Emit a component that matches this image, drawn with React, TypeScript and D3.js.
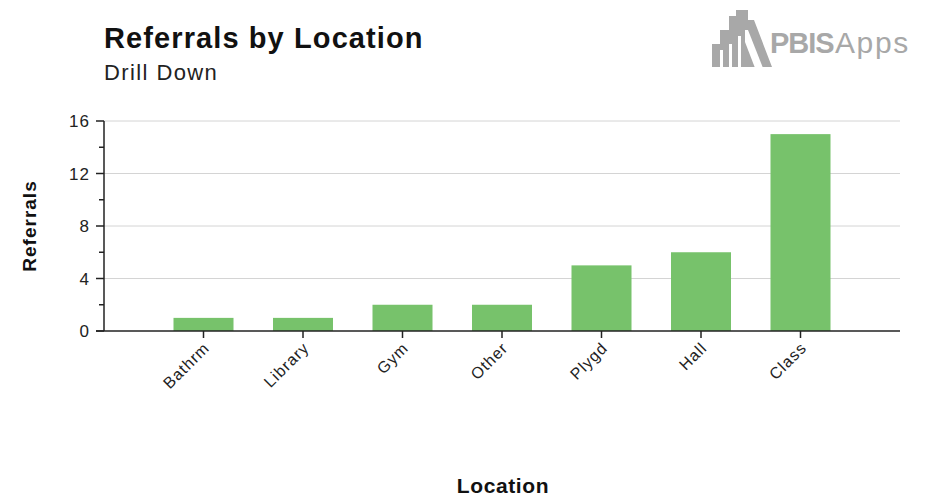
import * as d3 from "d3";

// ── Data ──────────────────────────────────────────────────────────────────────

const locations = ["Bathrm", "Library", "Gym", "Other", "Plygd", "Hall", "Class"];
const referrals = [1, 1, 2, 2, 5, 6, 15];
const majorTicks = [0, 4, 8, 12, 16];
const minorTicks = [2, 6, 10, 14];

// ── Layout ────────────────────────────────────────────────────────────────────

const W = 934;
const H = 497;
const PLOT = { left: 104, right: 900, top: 121, bottom: 331 };
const BAR_W = 60;
const FONT = "'Liberation Sans', Arial, Helvetica, sans-serif";
const BAR_COLOR = "#77c26b";
const LOGO_GRAY = "#a8a8a8";

export default function App() {
  const x = d3.scalePoint<string>().domain(locations).range([PLOT.left, PLOT.right]).padding(1);
  const y = d3.scaleLinear().domain([0, 16]).range([PLOT.bottom, PLOT.top]);

  return (
    <svg
      width={W}
      height={H}
      style={{ position: "fixed", left: 0, top: 0, background: "#fff" }}
      fontFamily={FONT}
    >
      {/* Title */}
      <text x={104} y={48} fontSize={29} fontWeight="bold" letterSpacing={1.1} fill="#111">
        Referrals by Location
      </text>
      <text x={104} y={80} fontSize={22} letterSpacing={1.4} fill="#222">
        Drill Down
      </text>

      {/* Logo */}
      <g fill={LOGO_GRAY}>
        <path d="M712,67 L712,44 L720,44 L720,30 L729,30 L729,16 L736,16 L736,10 L748,10 L748,20 L754,20 L772,67 Z" />
        <g fill="#fff">
          <rect x={720} y={50} width={3} height={18} />
          <rect x={729} y={44} width={3} height={24} />
          <rect x={738} y={36} width={3} height={32} />
          <path d="M745,30 L748,30 L763,68 L755,68 L745,42 Z" />
        </g>
        <text x={770} y={53} fontSize={29} fontWeight="bold" letterSpacing={-1}>
          PBIS
        </text>
        <text x={835} y={53} fontSize={30} letterSpacing={1.6}>
          Apps
        </text>
      </g>

      {/* Grid */}
      {majorTicks
        .filter((t) => t > 0)
        .map((t) => (
          <line key={t} x1={PLOT.left} x2={PLOT.right} y1={y(t)} y2={y(t)} stroke="#d4d4d4" strokeWidth={1} />
        ))}

      {/* Bars */}
      {locations.map((loc, i) => (
        <rect
          key={loc}
          x={(x(loc) ?? 0) - BAR_W / 2}
          y={y(referrals[i])}
          width={BAR_W}
          height={y(0) - y(referrals[i])}
          fill={BAR_COLOR}
        />
      ))}

      {/* Y axis */}
      <line x1={PLOT.left} x2={PLOT.left} y1={PLOT.top} y2={PLOT.bottom} stroke="#222" strokeWidth={1.5} />
      {majorTicks.map((t) => (
        <g key={t}>
          <line x1={PLOT.left - 8} x2={PLOT.left} y1={y(t)} y2={y(t)} stroke="#222" strokeWidth={1.5} />
          <text x={PLOT.left - 14} y={y(t)} dy="0.36em" textAnchor="end" fontSize={17} letterSpacing={1} fill="#222">
            {t}
          </text>
        </g>
      ))}
      {minorTicks.map((t) => (
        <line key={t} x1={PLOT.left - 5} x2={PLOT.left} y1={y(t)} y2={y(t)} stroke="#222" strokeWidth={1.5} />
      ))}

      {/* X axis */}
      <line x1={PLOT.left - 8} x2={PLOT.right} y1={PLOT.bottom} y2={PLOT.bottom} stroke="#222" strokeWidth={1.5} />
      {locations.map((loc) => {
        const cx = x(loc) ?? 0;
        return (
          <g key={loc}>
            <line x1={cx} x2={cx} y1={PLOT.bottom} y2={PLOT.bottom + 7} stroke="#222" strokeWidth={1.5} />
            <text
              transform={`translate(${cx + 7},${PLOT.bottom + 18}) rotate(-45)`}
              textAnchor="end"
              fontSize={16}
              letterSpacing={1}
              fill="#222"
            >
              {loc}
            </text>
          </g>
        );
      })}

      {/* Axis titles */}
      <text
        transform={`translate(36,${(PLOT.top + PLOT.bottom) / 2}) rotate(-90)`}
        textAnchor="middle"
        fontSize={19}
        fontWeight="bold"
        letterSpacing={1}
        fill="#111"
      >
        Referrals
      </text>
      <text x={503} y={493} textAnchor="middle" fontSize={21} fontWeight="bold" letterSpacing={0.6} fill="#111">
        Location
      </text>
    </svg>
  );
}
